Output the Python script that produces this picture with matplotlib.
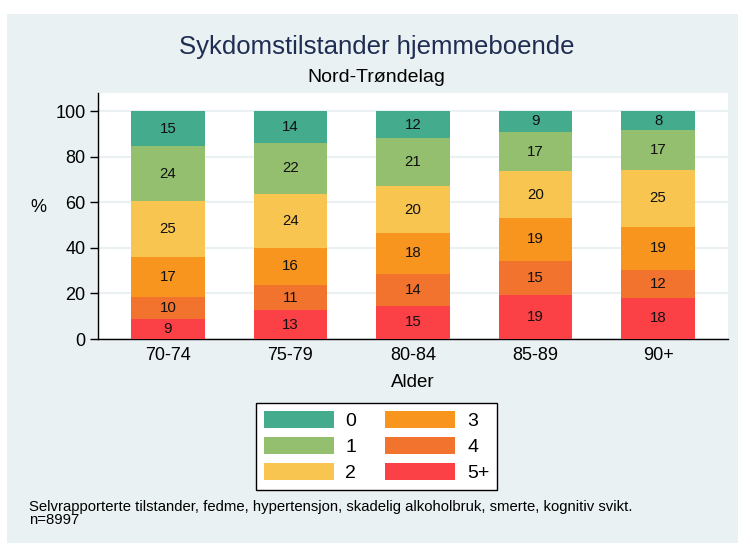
"""
Sykdomstilstander hjemmeboende - stacked bars by age group
"""
import matplotlib
matplotlib.use('Agg')
import matplotlib.pyplot as plt
from matplotlib.patches import Rectangle
import numpy as np

# age groups on the x axis
age_groups = ['70-74', '75-79', '80-84', '85-89', '90+']

# share (%) with number of conditions
pct_0 = [15.4, 14.0, 11.9, 9.2, 8.4]
pct_1 = [24.1, 22.3, 21.1, 17.3, 17.4]
pct_2 = [24.6, 23.7, 20.4, 20.4, 25.0]
pct_3 = [17.4, 16.2, 18.0, 18.9, 18.9]
pct_4 = [9.6, 11.2, 14.0, 14.8, 12.3]
pct_5 = [8.9, 12.6, 14.6, 19.4, 18.0]

categories = ['0', '1', '2', '3', '4', '5+']
colors = ['#44ab8d', '#93bf6f', '#f8c550', '#f7951f', '#f1732d', '#fb4046']

plt.rcParams['font.family'] = ['Liberation Sans', 'DejaVu Sans']

fig = plt.figure(figsize=(7.38, 5.43), dpi=100)
fig.patch.set_facecolor('white')
bg = '#e9f1f3'
fig.patches.append(Rectangle((7 / 738, 0), 1, 1 - 14 / 543, transform=fig.transFigure,
                             facecolor=bg, edgecolor='none', zorder=-10))

ax = fig.add_axes([98 / 738, 1 - 339 / 543, 630 / 738, 246 / 543])
ax.set_facecolor('white')

x = np.arange(len(age_groups))
series = [pct_0, pct_1, pct_2, pct_3, pct_4, pct_5]

# stack from the bottom: 5+, 4, 3, 2, 1, 0
bottom = np.zeros(len(age_groups))
containers = {}
for i in reversed(range(len(categories))):
    vals = np.array(series[i])
    bars = ax.bar(x, vals, width=0.6, bottom=bottom, color=colors[i],
                  edgecolor='none', zorder=3, label=categories[i])
    ax.bar_label(bars, labels=[f'{v:.0f}' for v in vals], label_type='center',
                 fontsize=10.8, color='#111111')
    containers[i] = bars
    bottom += vals

ax.set_xlim(-0.571, 4.571)
ax.set_ylim(0, 107.9)
ax.set_yticks([0, 20, 40, 60, 80, 100])
ax.set_xticks(x)
ax.set_xticklabels(age_groups)
ax.tick_params(axis='y', length=6, width=1, pad=3, labelsize=13)
ax.tick_params(axis='x', length=0, pad=6, labelsize=13)
ax.grid(axis='y', color=bg, linewidth=1.5, zorder=0)
ax.set_axisbelow(True)
for s in ['top', 'right']:
    ax.spines[s].set_visible(False)
for s in ['left', 'bottom']:
    ax.spines[s].set_linewidth(1)
    ax.spines[s].set_color('black')

ax.set_xlabel('Alder', fontsize=13.5, labelpad=7)
ax.set_ylabel('%', rotation=0, fontsize=13)
ax.yaxis.set_label_coords(-0.095, 0.5)

fig.text(0.51, 1 - 47 / 543, 'Sykdomstilstander hjemmeboende', ha='center', va='center',
         fontsize=18.5, color='#1f2d52')
fig.text(0.51, 1 - 77 / 543, 'Nord-Trøndelag', ha='center', va='center',
         fontsize=14, color='black')

handles = [containers[i] for i in range(len(categories))]
leg = fig.legend(handles, categories, ncol=2, loc='upper center',
                 bbox_to_anchor=(376.5 / 738, 1 - 403 / 543), fontsize=14,
                 frameon=True, fancybox=False, edgecolor='black', framealpha=1,
                 handlelength=3.6, handleheight=1.0, handletextpad=0.6,
                 labelspacing=0.34, columnspacing=1.5, borderpad=0.4,
                 borderaxespad=0)
leg.get_frame().set_linewidth(1)

fig.text(29 / 738, 1 - 507 / 543,
         'Selvrapporterte tilstander, fedme, hypertensjon, skadelig alkoholbruk, smerte, kognitiv svikt.',
         ha='left', va='center', fontsize=10.7)
fig.text(29 / 738, 1 - 520.5 / 543, 'n=8997', ha='left', va='center', fontsize=10.7)

fig.savefig('out.png', dpi=100)
plt.close(fig)
